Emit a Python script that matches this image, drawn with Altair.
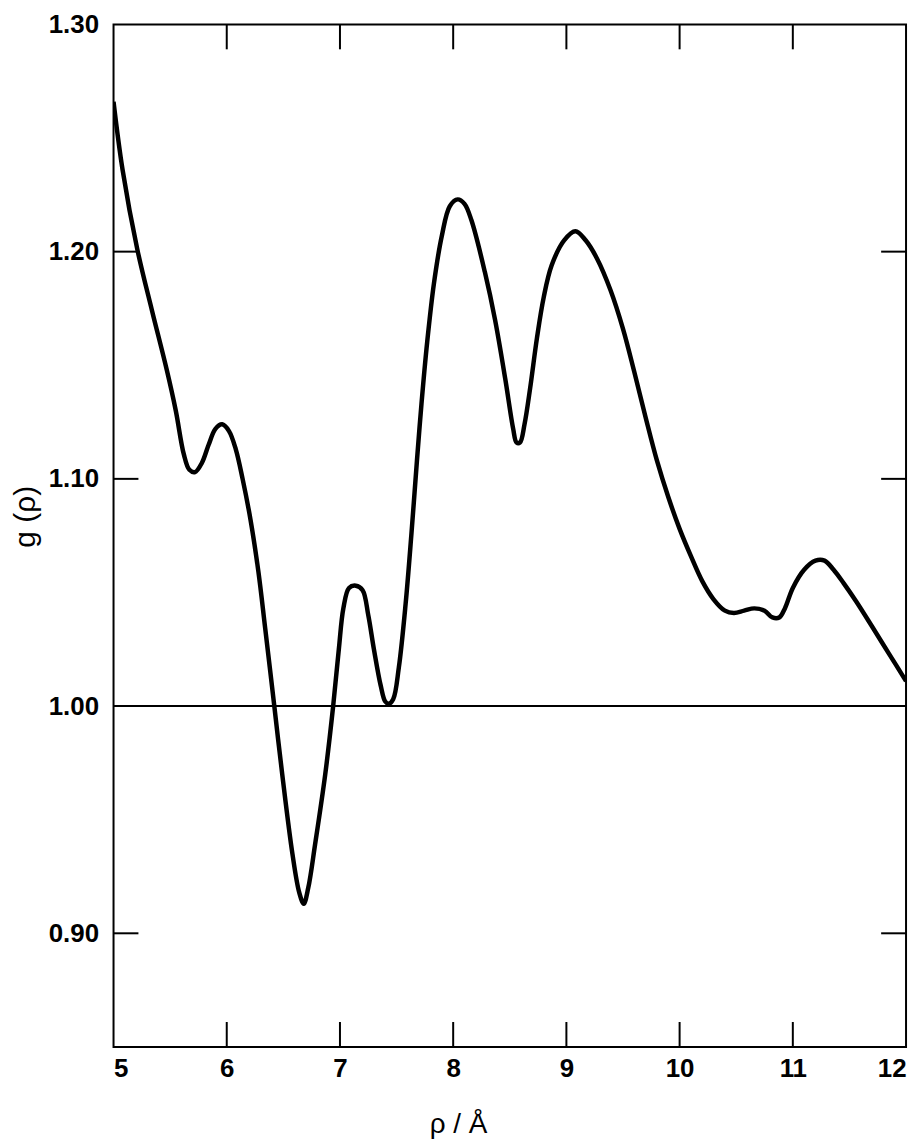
import altair as alt
import pandas as pd

# Curve values
rho = [5.00, 5.08, 5.21, 5.34, 5.47, 5.55, 5.62, 5.67, 5.72, 5.78, 5.84, 5.90, 5.96, 6.02,
       6.08, 6.14, 6.21, 6.28, 6.34, 6.42, 6.49, 6.58, 6.64, 6.68, 6.72, 6.78, 6.87, 6.94,
       6.99, 7.03, 7.08, 7.14, 7.20, 7.25, 7.30, 7.36, 7.40, 7.43, 7.47, 7.52, 7.58, 7.63,
       7.68, 7.72, 7.77, 7.83, 7.90, 7.97, 8.04, 8.10, 8.16, 8.28, 8.37, 8.46, 8.53, 8.56, 8.59,
       8.63, 8.68, 8.74, 8.80, 8.87, 8.98, 9.08, 9.17, 9.27, 9.39, 9.50, 9.60, 9.70, 9.80, 9.90,
       10.00, 10.10, 10.20, 10.30, 10.40, 10.48, 10.57, 10.66, 10.75, 10.82, 10.88, 10.93, 11.00,
       11.10, 11.20, 11.28, 11.36, 11.45, 11.56, 11.70, 11.85, 12.00]
g = [1.266, 1.236, 1.201, 1.174, 1.148, 1.130, 1.111, 1.104, 1.103, 1.107, 1.115, 1.122, 1.124, 1.121,
     1.113, 1.100, 1.082, 1.059, 1.034, 1.000, 0.970, 0.935, 0.918, 0.913, 0.920, 0.939, 0.970, 1.000,
     1.025, 1.043, 1.052, 1.053, 1.051, 1.040, 1.025, 1.009, 1.002, 1.001, 1.003, 1.017, 1.045, 1.075,
     1.108, 1.133, 1.160, 1.186, 1.207, 1.220, 1.223, 1.221, 1.214, 1.191, 1.170, 1.144, 1.122, 1.116, 1.116,
     1.124, 1.140, 1.162, 1.180, 1.194, 1.205, 1.209, 1.205, 1.197, 1.183, 1.166, 1.147, 1.127, 1.108, 1.092,
     1.078, 1.066, 1.055, 1.047, 1.042, 1.041, 1.042, 1.043, 1.042, 1.039, 1.039, 1.043, 1.052,
     1.060, 1.064, 1.064, 1.060, 1.054, 1.046, 1.035, 1.023, 1.011]

x_ticks = [5, 6, 7, 8, 9, 10, 11, 12]
x_inner_ticks = [6, 7, 8, 9, 10, 11]
y_ticks = [0.90, 1.00, 1.10, 1.20, 1.30]
y_inner_ticks = [0.90, 1.10, 1.20]
ref_level = [1.00]

W, H = 796, 1027
TL = 25

curve = pd.DataFrame({"rho": rho, "g": g})
xt = pd.DataFrame({"x": x_inner_ticks})
yt = pd.DataFrame({"y": y_inner_ticks})
ref = pd.DataFrame({"y": ref_level})

xscale = alt.Scale(domain=[5, 12], nice=False, zero=False)
yscale = alt.Scale(domain=[0.85, 1.30], nice=False, zero=False)

line = alt.Chart(curve).mark_line(
    color="black", strokeWidth=4.5, interpolate="catmull-rom", clip=True
).encode(
    x=alt.X("rho:Q", scale=xscale,
            axis=alt.Axis(values=x_ticks, format="d", ticks=False, tickSize=0, domain=False,
                          grid=False, labelPadding=9, title="ρ / Å",
                          titleX=346, titleY=78, titleBaseline="middle")),
    y=alt.Y("g:Q", scale=yscale,
            axis=alt.Axis(values=y_ticks, format=".2f", ticks=False, tickSize=0, domain=False,
                          grid=False, labelPadding=15, title="g (ρ)", titleFontSize=30,
                          titleX=-88, titleY=494, titleBaseline="middle")),
)

hline = alt.Chart(ref).mark_rule(color="black", strokeWidth=2).encode(y="y:Q")

top_ticks = alt.Chart(xt).mark_rule(color="black", strokeWidth=2).encode(
    x="x:Q", y=alt.value(0), y2=alt.value(TL))
bot_ticks = alt.Chart(xt).mark_rule(color="black", strokeWidth=2).encode(
    x="x:Q", y=alt.value(H), y2=alt.value(H - TL))
left_ticks = alt.Chart(yt).mark_rule(color="black", strokeWidth=2).encode(
    y="y:Q", x=alt.value(0), x2=alt.value(TL))
right_ticks = alt.Chart(yt).mark_rule(color="black", strokeWidth=2).encode(
    y="y:Q", x=alt.value(W), x2=alt.value(W - TL))

chart = alt.layer(hline, top_ticks, bot_ticks, left_ticks, right_ticks, line).properties(
    width=W, height=H,
    autosize=alt.AutoSizeParams(type="none"),
    padding={"left": 106, "top": 14, "right": 8, "bottom": 90},
).configure_view(
    stroke="black", strokeWidth=2
).configure_axis(
    labelFont="Liberation Sans", labelFontWeight="bold", labelFontSize=26, labelColor="black",
    titleFont="Liberation Sans", titleFontWeight="normal", titleFontSize=28, titleColor="black",
)

chart.save("out.html", embed_options={"renderer": "svg", "actions": False})
